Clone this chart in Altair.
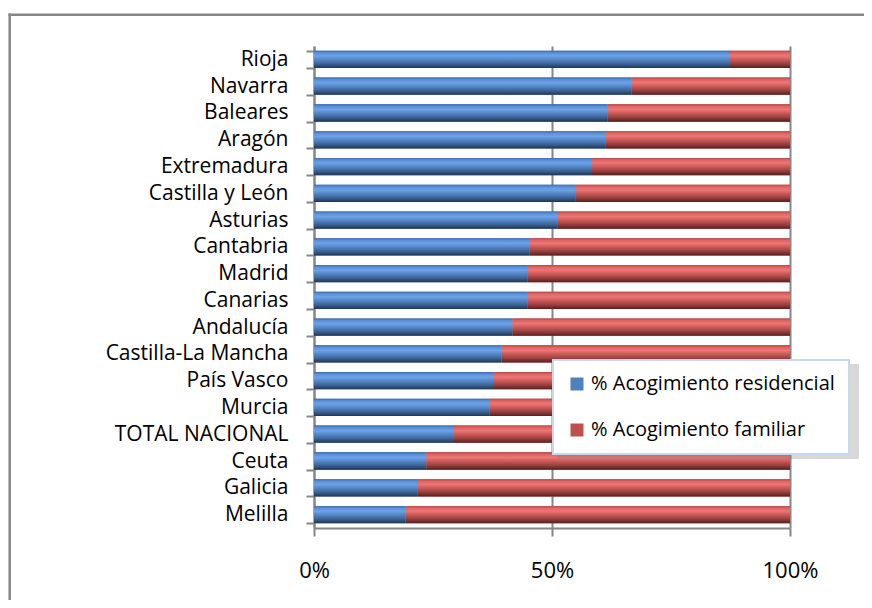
import altair as alt
import pandas as pd

regions = ["Rioja", "Navarra", "Baleares", "Aragón", "Extremadura", "Castilla y León",
           "Asturias", "Cantabria", "Madrid", "Canarias", "Andalucía", "Castilla-La Mancha",
           "País Vasco", "Murcia", "TOTAL NACIONAL", "Ceuta", "Galicia", "Melilla"]
residencial = [87.4, 66.7, 61.7, 61.3, 58.4, 55.0, 51.2, 45.3, 44.9, 44.9, 41.7, 39.4,
               37.6, 36.9, 29.4, 23.6, 21.7, 19.2]
familiar = [12.6, 33.3, 38.3, 38.7, 41.6, 45.0, 48.8, 54.7, 55.1, 55.1, 58.3, 60.6,
            62.4, 63.1, 70.6, 76.4, 78.3, 80.8]
series = ["% Acogimiento residencial", "% Acogimiento familiar"]
colors = ["#4F81BD", "#C0504D"]

rows = []
for reg, r, f in zip(regions, residencial, familiar):
    rows.append({"region": reg, "serie": series[0], "start": 0.0, "end": r})
    rows.append({"region": reg, "serie": series[1], "start": r, "end": r + f})
df = pd.DataFrame(rows)

FONT = "Open Sans"
GRAY = "#868686"

x = alt.X("start:Q",
          scale=alt.Scale(domain=[0, 100], nice=False),
          axis=alt.Axis(values=[0, 50, 100], labelExpr="datum.value + '%'", title=None,
                        grid=True, gridColor=GRAY, gridWidth=2,
                        domainColor=GRAY, domainWidth=2,
                        tickColor=GRAY, tickWidth=2, tickSize=8,
                        labelFont=FONT, labelFontSize=22, labelColor="#000000",
                        labelFlush=False, labelPadding=24))
x2 = alt.X2("end:Q")
y = alt.Y("region:N", sort=regions,
          scale=alt.Scale(paddingInner=0.355, paddingOuter=0.18),
          axis=alt.Axis(title=None, tickBand="extent", tickSize=8, tickColor=GRAY,
                        tickWidth=2, domainColor=GRAY, domainWidth=2,
                        labelFont=FONT, labelFontSize=21, labelColor="#000000",
                        labelPadding=18, grid=False, labelLimit=300))

flat = alt.Chart(df).mark_bar().encode(
    x=x, x2=x2, y=y,
    color=alt.Color("serie:N", sort=series,
                    scale=alt.Scale(domain=series, range=colors),
                    legend=alt.Legend(title=None, orient="none", legendX=239, legendY=314,
                                      symbolType="square", symbolSize=169,
                                      symbolStrokeWidth=0,
                                      labelFont=FONT, labelFontSize=20, labelColor="#000000",
                                      labelOffset=4, rowPadding=26, padding=14,
                                      labelLimit=400,
                                      fillColor="#FFFFFF", strokeColor="#C6D9F1"))
)

blue_grad = alt.Gradient(gradient="linear", x1=0, y1=0, x2=0, y2=1, stops=[
    alt.GradientStop(offset=0, color="#3c6aa8"),
    alt.GradientStop(offset=0.12, color="#5b8fd5"),
    alt.GradientStop(offset=0.3, color="#6ca3e8"),
    alt.GradientStop(offset=0.5, color="#5688c8"),
    alt.GradientStop(offset=0.75, color="#3d6498"),
    alt.GradientStop(offset=1, color="#1f3554"),
])
red_grad = alt.Gradient(gradient="linear", x1=0, y1=0, x2=0, y2=1, stops=[
    alt.GradientStop(offset=0, color="#b54947"),
    alt.GradientStop(offset=0.12, color="#dd6462"),
    alt.GradientStop(offset=0.3, color="#ee7675"),
    alt.GradientStop(offset=0.5, color="#cc5b59"),
    alt.GradientStop(offset=0.75, color="#99403e"),
    alt.GradientStop(offset=1, color="#561f1e"),
])

gblue = alt.Chart(df).mark_bar(color=blue_grad).encode(x=x, x2=x2, y=y).transform_filter(
    alt.datum.serie == series[0])
gred = alt.Chart(df).mark_bar(color=red_grad).encode(x=x, x2=x2, y=y).transform_filter(
    alt.datum.serie == series[1])

one = pd.DataFrame({"k": [0]})
shadow = alt.Chart(one).mark_rect(color="#7f7f7f", opacity=0.3).encode(
    x=alt.value(243), x2=alt.value(545), y=alt.value(318), y2=alt.value(413))
frame_top = alt.Chart(one).mark_rule(color=GRAY, strokeWidth=2.5).encode(
    x=alt.value(-305.5), x2=alt.value(550), y=alt.value(-31.3))
frame_left = alt.Chart(one).mark_rule(color=GRAY, strokeWidth=2.5).encode(
    x=alt.value(-304.3), y=alt.value(-32.5), y2=alt.value(554))

chart = alt.layer(flat, gblue, gred, shadow, frame_top, frame_left).properties(
    width=476, height=482,
    autosize=alt.AutoSizeParams(type="none"),
    padding={"left": 306, "top": 38, "right": 74, "bottom": 72},
    background="#FFFFFF",
).configure_view(stroke=None).configure_legend(strokeWidth=2)

chart.save("out.html", embed_options={"renderer": "svg", "actions": False})
